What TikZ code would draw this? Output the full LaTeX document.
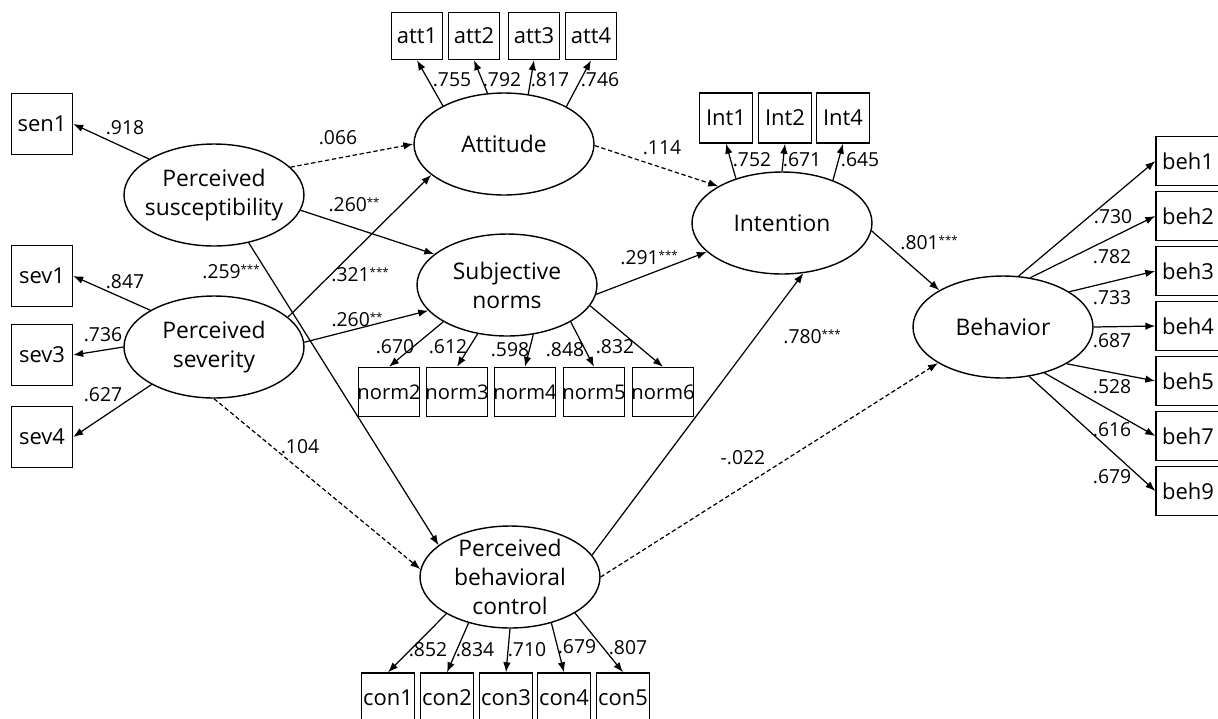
\documentclass[tikz,border=0pt]{standalone}
\usepackage{fontspec}
\setmainfont{Open Sans}
\usetikzlibrary{shapes.geometric,arrows.meta}
\newcommand{\sig}[1]{\raisebox{.5ex}{\fontsize{6.5}{6.5}\selectfont#1}}
\tikzset{
  lat/.style={draw, ellipse, line width=0.8pt, minimum width=3.6cm, minimum height=2.04cm, inner xsep=-5pt, inner ysep=-7pt, align=center, font=\fontsize{13}{16.5}\selectfont},
  obs/.style={draw, line width=0.8pt, inner sep=0pt, minimum width=1.22cm, minimum height=1.22cm, font=\fontsize{12.5}{15}\selectfont},
  nrm/.style={obs, inner xsep=-3pt, minimum height=0.98cm, font=\fontsize{11.5}{14}\selectfont},
  arr/.style={-{Latex[length=2mm,width=1.5mm]}, line width=0.7pt},
  darr/.style={arr, dash pattern=on 2.5pt off 1.5pt},
  coef/.style={inner sep=0pt, font=\fontsize{11}{13}\selectfont}}

\begin{document}
\begin{tikzpicture}[x=0.02cm, y=-0.02cm]
\useasboundingbox (0,0) rectangle (1218,718);
% latent variables
\node[lat] (sus) at (214,195) {Perceived\\susceptibility};
\node[lat] (sev) at (214,347) {Perceived\\severity};
\node[lat] (att) at (504,144) {Attitude};
\node[lat] (sn) at (507,285) {Subjective\\norms};
\node[lat] (int) at (782,223) {Intention};
\node[lat] (beh) at (1003,327) {Behavior};
\node[lat] (pbc) at (510,577) {Perceived\\behavioral\\control};

% indicators
\node[obs] (sen1) at (42,124) {sen1};
\node[obs] (sev1) at (42,276) {sev1};
\node[obs] (sev3) at (42,355) {sev3};
\node[obs] (sev4) at (42,437) {sev4};
\node[obs, minimum width=1.02cm, minimum height=0.94cm] (att1) at (417,36) {att1};
\node[obs, minimum width=1.02cm, minimum height=0.94cm] (att2) at (474,36) {att2};
\node[obs, minimum width=1.02cm, minimum height=0.94cm] (att3) at (534,36) {att3};
\node[obs, minimum width=1.02cm, minimum height=0.94cm] (att4) at (591,36) {att4};
\node[obs, minimum width=1.06cm, minimum height=1.0cm] (int1) at (726,118) {Int1};
\node[obs, minimum width=1.06cm, minimum height=1.0cm] (int2) at (785,118) {Int2};
\node[obs, minimum width=1.06cm, minimum height=1.0cm] (int4) at (843,118) {Int4};
\node[nrm] (norm2) at (389,392) {norm2};
\node[nrm] (norm3) at (457,392) {norm3};
\node[nrm] (norm4) at (525,392) {norm4};
\node[nrm] (norm5) at (594,392) {norm5};
\node[nrm] (norm6) at (663,392) {norm6};
\node[obs, minimum width=1.06cm, minimum height=1.0cm] (con1) at (388,698) {con1};
\node[obs, minimum width=1.06cm, minimum height=1.0cm] (con2) at (447,698) {con2};
\node[obs, minimum width=1.06cm, minimum height=1.0cm] (con3) at (506,698) {con3};
\node[obs, minimum width=1.06cm, minimum height=1.0cm] (con4) at (564,698) {con4};
\node[obs, minimum width=1.06cm, minimum height=1.0cm] (con5) at (623,698) {con5};
\node[obs, minimum width=1.28cm, minimum height=0.98cm] (beh1) at (1188,161) {beh1};
\node[obs, minimum width=1.28cm, minimum height=0.98cm] (beh2) at (1188,216) {beh2};
\node[obs, minimum width=1.28cm, minimum height=0.98cm] (beh3) at (1188,271) {beh3};
\node[obs, minimum width=1.28cm, minimum height=0.98cm] (beh4) at (1188,326) {beh4};
\node[obs, minimum width=1.28cm, minimum height=0.98cm] (beh5) at (1188,381) {beh5};
\node[obs, minimum width=1.28cm, minimum height=0.98cm] (beh7) at (1188,436) {beh7};
\node[obs, minimum width=1.28cm, minimum height=0.98cm] (beh9) at (1188,491) {beh9};

% measurement paths
\draw[arr] (sus.151) -- (sen1.east);
\draw[arr] (sev.150) -- (sev1.east); \draw[arr] (sev.180) -- (sev3.east); \draw[arr] (sev.211) -- (sev4.east);
\draw[arr] (att.148) -- (att1.south); \draw[arr] (att.108) -- (att2.south);
\draw[arr] (att.64) -- (att3.south); \draw[arr] (att.31) -- (att4.south);
\draw[arr] (sn.210) -- (norm2.north); \draw[arr] (sn.239) -- (norm3.north); \draw[arr] (sn.298) -- (norm4.north);
\draw[arr] (sn.330) -- (norm5.north); \draw[arr] (sn.346) -- (norm6.north);
\draw[arr] (int.136) -- (int1.south); \draw[arr] (int.90) -- (int2.south); \draw[arr] (int.40) -- (int4.south);
\draw[arr] (pbc.210) -- (con1.north); \draw[arr] (pbc.228) -- (con2.north); \draw[arr] (pbc.270) -- (con3.north);
\draw[arr] (pbc.312) -- (con4.north); \draw[arr] (pbc.331) -- (con5.north);
\draw[arr] (beh.73) -- (beh1.west); \draw[arr] (beh.61) -- (beh2.west); \draw[arr] (beh.28) -- (beh3.west);
\draw[arr] (beh.0) -- (beh4.west); \draw[arr] (beh.-30) -- (beh5.west); \draw[arr] (beh.-48) -- (beh7.west);
\draw[arr] (beh.-62) -- (beh9.west);

% structural paths
\draw[darr] (sus.20) -- (att.180);
\draw[arr] (sus.-10) -- (sn.157);
\draw[arr] (sus.-54) -- (pbc.156);
\draw[arr] (sev.22) -- (att.203);
\draw[arr] (sev.3) -- (sn.198);
\draw[darr] (sev.270) -- (pbc.175);
\draw[darr] (att.-1) -- (int.150);
\draw[arr] (sn.354) -- (int.201);
\draw[arr] (pbc.15) -- (int.293);
\draw[darr] (pbc.0) -- (beh.209);
\draw[arr] (int.-5) -- (beh.150);

% coefficients
\node[coef] (c01) at (125,128) {.918};
\node[coef] (c02) at (338,138) {.066};
\node[coef] (c03) at (354,205) {.260\sig{**}};
\node[coef] (c04) at (231,272) {.259\sig{***}};
\node[coef] (c05) at (360,275) {.321\sig{***}};
\node[coef] (c06) at (125,282) {.847};
\node[coef] (c07) at (103,335) {.736};
\node[coef] (c08) at (357,320) {.260\sig{**}};
\node[coef] (c09) at (103,395) {.627};
\node[coef] (c10) at (300,447) {.104};
\node[coef] (c11) at (452,80) {.755};
\node[coef] (c12) at (502,80) {.792};
\node[coef] (c13) at (550,80) {.817};
\node[coef] (c14) at (600,80) {.746};
\node[coef] (c15) at (662,148) {.114};
\node[coef] (c16) at (395,347) {.670};
\node[coef] (c17) at (448,347) {.612};
\node[coef] (c18) at (510,350) {.598};
\node[coef] (c19) at (565,350) {.848};
\node[coef] (c20) at (615,347) {.832};
\node[coef] (c21) at (649,258) {.291\sig{***}};
\node[coef] (c22) at (752,160) {.752};
\node[coef] (c23) at (802,160) {.671};
\node[coef] (c24) at (860,160) {.645};
\node[coef] (c25) at (929,243) {.801\sig{***}};
\node[coef] (c26) at (812,337) {.780\sig{***}};
\node[coef] (c27) at (743,458) {-.022};
\node[coef] (c28) at (428,650) {.852};
\node[coef] (c29) at (475,650) {.834};
\node[coef] (c30) at (527,650) {.710};
\node[coef] (c31) at (577,647) {.679};
\node[coef] (c32) at (628,648) {.807};
\node[coef] (c33) at (1113,217) {.730};
\node[coef] (c34) at (1112,257) {.782};
\node[coef] (c35) at (1112,298) {.733};
\node[coef] (c36) at (1112,341) {.687};
\node[coef] (c37) at (1112,387) {.528};
\node[coef] (c38) at (1112,430) {.616};
\node[coef] (c39) at (1112,477) {.679};
\end{tikzpicture}
\end{document}
